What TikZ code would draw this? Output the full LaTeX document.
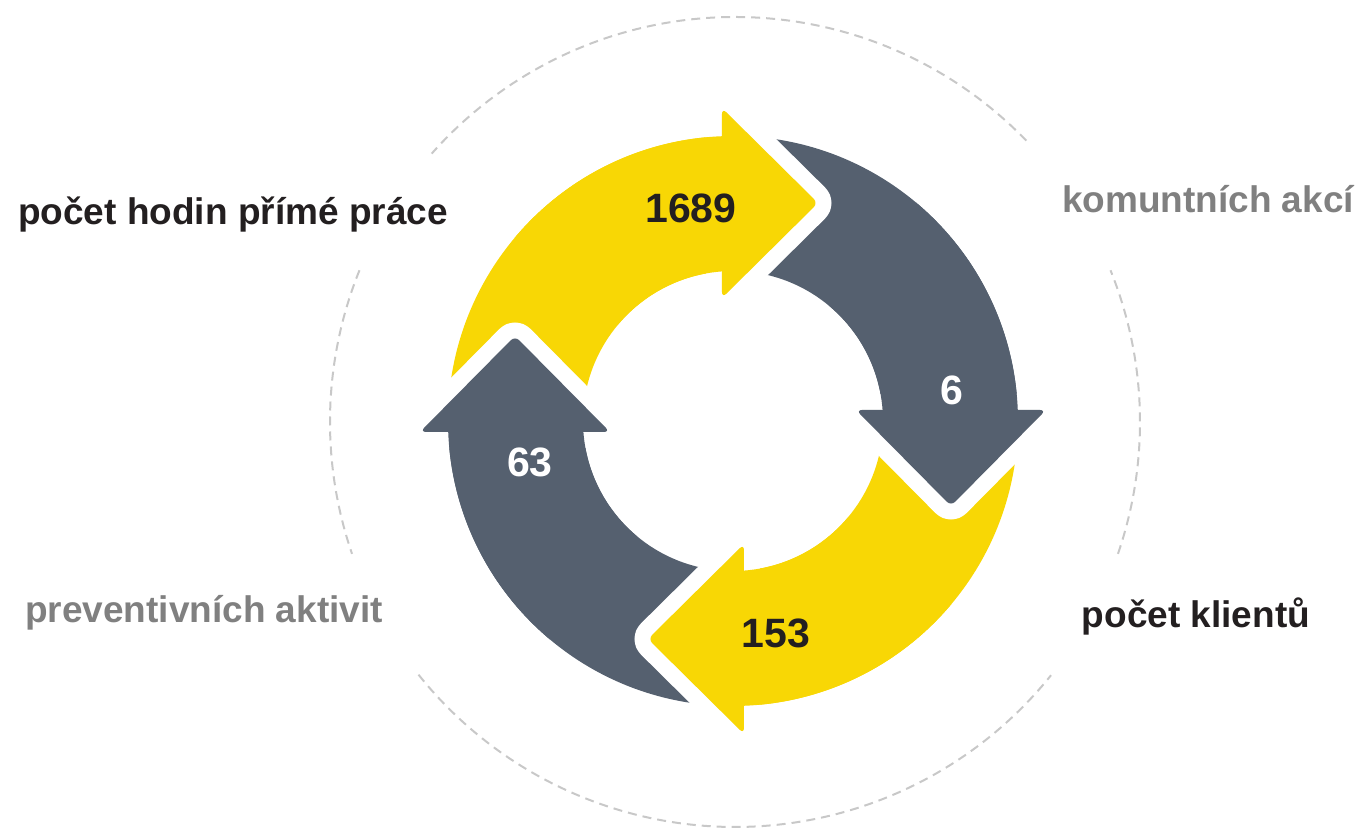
\documentclass[tikz,border=0pt]{standalone}
\usepackage{fontspec}
\setmainfont{Liberation Sans}
\definecolor{zluta}{HTML}{F8D705}
\definecolor{seda}{HTML}{55606F}
\definecolor{cerna}{HTML}{231F20}
\definecolor{sedytext}{HTML}{808080}
\definecolor{kruh}{HTML}{C8C8C8}
\begin{document}
\begin{tikzpicture}[x=0.5pt,y=0.5pt,
	cislo/.style={font=\fontsize{20.5}{24}\selectfont\bfseries, inner sep=0pt, anchor=base},
	popis/.style={font=\fontsize{18.5}{22}\selectfont\bfseries, inner sep=0pt, anchor=base},
	obrys/.style={draw=white, line width=16pt, line join=round},
	carkovane/.style={draw=kruh, line width=1pt, dash pattern=on 4.5pt off 3pt}]
	\useasboundingbox (-733,-414) rectangle (629,421);

	% carkovany kruh
	\foreach \a/\b in {44/138.5, 158/199, 218.6/321.3, -19/22}
		\draw[carkovane] (2,-1) ++(\a:405) arc[start angle=\a, end angle=\b, radius=405];

	% pasy sipek
	\foreach \r/\c in {0/zluta, -90/seda, -180/zluta, -270/seda}
		\fill[\c, rotate=\r] (180:285) arc[start angle=180, end angle=92.2, radius=285]
			-- (94.2:150) arc[start angle=94.2, end angle=180, radius=150] -- cycle;

	% hlavy sipek
	\foreach \r/\c in {0/zluta, -90/seda, -180/zluta, -270/seda}{
		\draw[obrys, rotate=\r, rounded corners=3pt] (-11,313) -- (85,218) -- (-11,123) -- cycle;
		\fill[\c, rotate=\r] (140:285) arc[start angle=140, end angle=92.2, radius=285]
			-- (94.2:150) arc[start angle=94.2, end angle=140, radius=150] -- cycle;
		\fill[\c, rotate=\r, rounded corners=3pt] (-11,313) -- (85,218) -- (-11,123) -- cycle;
	}

	\node[cislo, text=cerna] (hodiny) at (-42,198) {1689};
	\node[cislo, text=white] (akce) at (219,16) {6};
	\node[cislo, text=cerna] (klienti) at (43,-227) {153};
	\node[cislo, text=white] (aktivity) at (-203,-56) {63};

	\node[popis, text=cerna] (popishodiny) at (-500,196) {počet hodin přímé práce};
	\node[popis, text=sedytext] (popisakce) at (475,208) {komuntních akcí};
	\node[popis, text=cerna] (popisklienti) at (463,-206) {počet klientů};
	\node[popis, text=sedytext] (popisaktivity) at (-529,-202) {preventivních aktivit};
\end{tikzpicture}
\end{document}
